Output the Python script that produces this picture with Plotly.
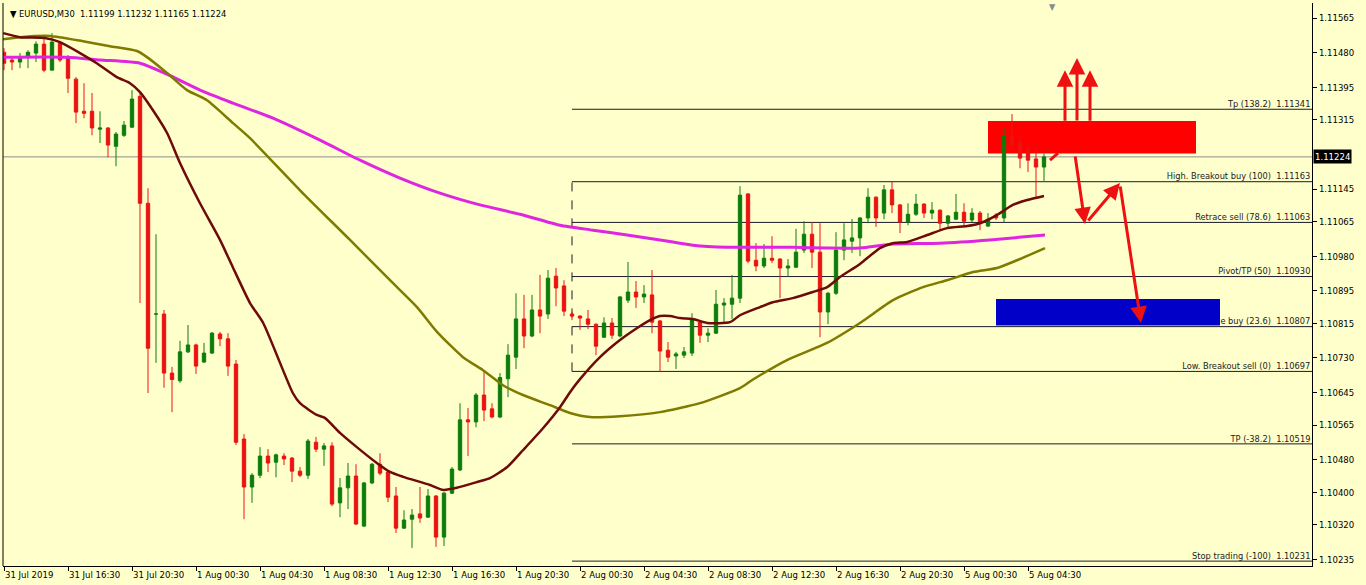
import plotly.graph_objects as go

# ---------------- data ----------------
bars = list(range(131))
opens = [1.11481,1.11462,1.11457,1.11469,1.11479,1.11501,1.11437,1.11503,1.11467,1.11415,
         1.11336,1.11336,1.11292,1.11295,1.11250,1.11277,1.11297,1.11373,1.11110,1.10838,
         1.10838,1.10693,1.10674,1.10745,1.10762,1.10720,1.10742,1.10789,1.10777,1.10715,
         1.10531,1.10413,1.10442,1.10489,1.10474,1.10489,1.10484,1.10452,1.10442,1.10523,
         1.10506,1.10514,1.10374,1.10411,1.10440,1.10317,1.10423,1.10469,1.10450,1.10391,
         1.10312,1.10334,1.10347,1.10339,1.10391,1.10290,1.10398,1.10455,1.10578,1.10573,
         1.10639,1.10605,1.10585,1.10679,1.10732,1.10826,1.10784,1.10848,1.10838,1.10931,
         1.10907,1.10838,1.10833,1.10826,1.10813,1.10781,1.10816,1.10784,1.10872,1.10892,
         1.10880,1.10885,1.10821,1.10749,1.10735,1.10737,1.10742,1.10818,1.10786,1.10791,
         1.10860,1.10862,1.10877,1.11133,1.10970,1.10956,1.10975,1.10973,1.10951,1.10953,
         1.10995,1.11034,1.10990,1.10843,1.10889,1.10995,1.11017,1.11025,1.11074,1.11125,
         1.11086,1.11143,1.11106,1.11064,1.11083,1.11108,1.11086,1.11093,1.11061,1.11071,
         1.11088,1.11069,1.11086,1.11054,1.11081,1.11074,1.11273,1.11260,1.11241,1.11219,
         1.11199]
highs = [1.11491,1.11471,1.11479,1.11486,1.11508,1.11523,1.11528,1.11508,1.11474,1.11420,
         1.11405,1.11381,1.11336,1.11297,1.11285,1.11312,1.11388,1.11381,1.11147,1.11034,
         1.10848,1.10708,1.10772,1.10811,1.10765,1.10767,1.10794,1.10794,1.10791,1.10725,
         1.10543,1.10447,1.10511,1.10506,1.10495,1.10496,1.10487,1.10462,1.10531,1.10536,
         1.10521,1.10523,1.10435,1.10472,1.10469,1.10425,1.10472,1.10496,1.10455,1.10413,
         1.10356,1.10359,1.10413,1.10408,1.10393,1.10401,1.10462,1.10619,1.10607,1.10644,
         1.10696,1.10619,1.10693,1.10764,1.10889,1.10885,1.10885,1.10934,1.10946,1.10951,
         1.10921,1.10843,1.10835,1.10848,1.10815,1.10830,1.10828,1.10882,1.10966,1.10919,
         1.10909,1.10946,1.10823,1.10769,1.10745,1.10757,1.10840,1.10823,1.10803,1.10897,
         1.10877,1.10934,1.11152,1.11135,1.11012,1.11010,1.11029,1.10975,1.10973,1.11047,
         1.11066,1.11064,1.11061,1.10892,1.11039,1.11061,1.11071,1.11076,1.11147,1.11127,
         1.11155,1.11163,1.11108,1.11110,1.11133,1.11110,1.11113,1.11095,1.11081,1.11133,
         1.11110,1.11098,1.11091,1.11086,1.11086,1.11295,1.11329,1.11275,1.11253,1.11241,
         1.11232]
lows = [1.11437,1.11437,1.11442,1.11442,1.11457,1.11432,1.11437,1.11457,1.11381,1.11307,
        1.11319,1.11277,1.11258,1.11223,1.11201,1.11273,1.11295,1.10865,1.10644,1.10718,
        1.10657,1.10597,1.10669,1.10742,1.10691,1.10718,1.10740,1.10759,1.10686,1.10516,
        1.10334,1.10374,1.10435,1.10450,1.10437,1.10467,1.10425,1.10437,1.10433,1.10499,
        1.10465,1.10366,1.10339,1.10359,1.10320,1.10315,1.10420,1.10442,1.10376,1.10300,
        1.10310,1.10263,1.10325,1.10337,1.10266,1.10268,1.10396,1.10452,1.10489,1.10560,
        1.10575,1.10582,1.10582,1.10634,1.10703,1.10754,1.10781,1.10791,1.10826,1.10857,
        1.10833,1.10823,1.10799,1.10801,1.10737,1.10779,1.10777,1.10781,1.10865,1.10853,
        1.10865,1.10791,1.10696,1.10720,1.10703,1.10730,1.10735,1.10767,1.10769,1.10789,
        1.10818,1.10826,1.10865,1.10963,1.10943,1.10951,1.10963,1.10877,1.10929,1.10951,
        1.10988,1.10951,1.10781,1.10813,1.10885,1.10970,1.10988,1.10980,1.11061,1.11052,
        1.11071,1.11086,1.11037,1.11056,1.11079,1.11074,1.11071,1.11042,1.11052,1.11069,
        1.11054,1.11064,1.11044,1.11052,1.11069,1.11064,1.11241,1.11196,1.11187,1.11125,
        1.11165]
closes = [1.11454,1.11457,1.11467,1.11481,1.11501,1.11437,1.11506,1.11462,1.11417,1.11334,
          1.11331,1.11295,1.11295,1.11253,1.11280,1.11302,1.11366,1.11110,1.10754,1.10838,
          1.10693,1.10677,1.10745,1.10762,1.10710,1.10742,1.10791,1.10777,1.10710,1.10523,
          1.10413,1.10442,1.10489,1.10472,1.10492,1.10482,1.10452,1.10442,1.10526,1.10506,
          1.10514,1.10371,1.10411,1.10440,1.10322,1.10423,1.10469,1.10447,1.10388,1.10312,
          1.10332,1.10344,1.10337,1.10391,1.10290,1.10398,1.10457,1.10578,1.10573,1.10639,
          1.10602,1.10585,1.10682,1.10737,1.10826,1.10784,1.10848,1.10833,1.10926,1.10902,
          1.10845,1.10833,1.10828,1.10813,1.10759,1.10816,1.10786,1.10880,1.10892,1.10880,
          1.10887,1.10818,1.10747,1.10732,1.10740,1.10745,1.10823,1.10786,1.10791,1.10862,
          1.10865,1.10877,1.11130,1.10968,1.10956,1.10975,1.10970,1.10951,1.10956,1.10990,
          1.11034,1.10990,1.10843,1.10889,1.10995,1.11020,1.11025,1.11074,1.11125,1.11074,
          1.11143,1.11106,1.11064,1.11083,1.11108,1.11086,1.11093,1.11061,1.11079,1.11088,
          1.11066,1.11086,1.11064,1.11071,1.11074,1.11275,1.11253,1.11221,1.11216,1.11199,
          1.11224]

tick_bars = [0, 8, 16, 24, 32, 40, 48, 56, 64, 72, 80, 88, 96, 104, 112, 120, 128]
tick_labels = ["31 Jul 2019", "31 Jul 16:30", "31 Jul 20:30", "1 Aug 00:30", "1 Aug 04:30",
               "1 Aug 08:30", "1 Aug 12:30", "1 Aug 16:30", "1 Aug 20:30", "2 Aug 00:30",
               "2 Aug 04:30", "2 Aug 08:30", "2 Aug 12:30", "2 Aug 16:30", "2 Aug 20:30",
               "5 Aug 00:30", "5 Aug 04:30"]
price_ticks = [1.11565, 1.11480, 1.11395, 1.11315, 1.11145, 1.11065, 1.10980, 1.10895,
               1.10815, 1.10730, 1.10645, 1.10565, 1.10480, 1.10400, 1.10320, 1.10235]

fast_ma_x = [-0.1,2,5.1,7,9.5,11.6,14.1,15.75,17,18.6,20.4,22,24.5,27,28.6,30.75,32.4,36.1,37,39.1,
             40.1,42,44.1,46.6,48.25,49.9,53.25,54.9,56.6,59.1,60.75,62.9,64.9,67.4,69.5,70.75,72,
             74.5,77,79.1,80.75,82,83.25,84.5,86.1,87.9,90.75,92,94.5,96.1,98.6,101.1,102.9,104.5,
             107,109.5,111.1,112.9,115.4,117.9,120.4,122,124.1,126.1,127.9,130]
fast_ma_y = [1.11528,1.11518,1.11516,1.11506,1.11479,1.11454,1.11420,1.11405,1.11383,1.11339,
             1.11282,1.11209,1.11110,1.11020,1.10953,1.10865,1.10816,1.10644,1.10619,1.10590,
             1.10583,1.10546,1.10511,1.10472,1.10450,1.10438,1.10418,1.10406,1.10411,1.10425,
             1.10435,1.10462,1.10504,1.10558,1.10609,1.10646,1.10678,1.10732,1.10774,1.10803,
             1.10823,1.10833,1.10833,1.10828,1.10826,1.10816,1.10818,1.10835,1.10855,1.10867,
             1.10877,1.10892,1.10904,1.10929,1.10961,1.11000,1.11012,1.11015,1.11032,1.11049,
             1.11054,1.11061,1.11081,1.11106,1.11118,1.11128]
slow_ma_x = [-0.125,2,5.75,9.875,13.25,16.625,17.875,20.375,22.875,25.375,28.625,30.75,37,43.25,
             48.25,51.625,54.125,57.375,59.875,62.375,64.875,68.25,70.75,73.25,77,82,87,92,93.625,
             97.875,102.875,107,111.125,114.875,117.875,121.125,124.125,126.625,130.125]
slow_ma_y = [1.11513,1.11518,1.11521,1.11508,1.11496,1.11484,1.11469,1.11430,1.11388,1.11363,
             1.11307,1.11270,1.11142,1.11020,1.10921,1.10855,1.10794,1.10732,1.10700,1.10663,
             1.10639,1.10614,1.10595,1.10585,1.10587,1.10597,1.10619,1.10656,1.10677,1.10725,
             1.10767,1.10816,1.10872,1.10904,1.10921,1.10941,1.10951,1.10970,1.11000]
long_ma_x = [-0.125,7.875,12,17,20.375,24.5,28.625,33.625,39.5,44.5,49.5,54.5,59.5,64.5,69.5,
             73.625,77.875,82,86.125,90.375,94.5,98.625,102.875,107,111.125,117,123.25,130.125]
long_ma_y = [1.11469,1.11469,1.11462,1.11454,1.11427,1.11388,1.11356,1.11319,1.11265,1.11216,
             1.11172,1.11135,1.11106,1.11083,1.11056,1.11044,1.11032,1.11020,1.11007,1.11002,
             1.11002,1.11002,1.11000,1.11000,1.11010,1.11012,1.11020,1.11032]

fib_names = ["Tp (138.2)", "High. Breakout buy (100)", "Retrace sell (78.6)", "Pivot/TP (50)",
             "Retrace buy (23.6)", "Low. Breakout sell (0)", "TP (-38.2)", "Stop trading (-100)"]
fib_levels = [1.11341, 1.11163, 1.11063, 1.10930, 1.10807, 1.10697, 1.10519, 1.10231]
fib_start_bar = 71
fib_anchor = [1.10697, 1.11163]
current_price = 1.11224
title_text = "EURUSD,M30  1.11199 1.11232 1.11165 1.11224"

red_zone = [123, 149, 1.11232, 1.11312]
blue_zone = [124, 152, 1.10810, 1.10875]
# arrows: head bar, head price, tail offset px (dx, dy)
arrows = [(132.625, 1.11437, 0, 52), (134.125, 1.11467, 0, 64), (135.75, 1.11437, 0, 52),
          (135.125, 1.11059, -10, -69), (139.5, 1.11160, -33, 39), (142.125, 1.10816, -21, -138)]
stroke = [(130.75, 1.11216), (131.75, 1.11233)]

X_RANGE = [-0.125, 163.5]
Y_RANGE = [1.10219, 1.11602]

BG = "#FFFFCC"
FONT = "DejaVu Sans Condensed, DejaVu Sans"
BULL = "#0C7D0C"
BEAR = "#EC1212"
ARROW = "#EE1111"

fig = go.Figure()

fig.add_trace(go.Candlestick(
    x=bars, open=opens, high=highs, low=lows, close=closes,
    increasing=dict(line=dict(color=BULL, width=1), fillcolor=BULL),
    decreasing=dict(line=dict(color=BEAR, width=1), fillcolor=BEAR),
    whiskerwidth=0, showlegend=False, hoverinfo="skip"))

fig.add_trace(go.Scatter(x=long_ma_x, y=long_ma_y, mode="lines",
                         line=dict(color="#E025E0", width=3, shape="spline", smoothing=0.6),
                         showlegend=False, hoverinfo="skip"))
fig.add_trace(go.Scatter(x=slow_ma_x, y=slow_ma_y, mode="lines",
                         line=dict(color="#7F7A00", width=2.5, shape="spline", smoothing=0.6),
                         showlegend=False, hoverinfo="skip"))
fig.add_trace(go.Scatter(x=fast_ma_x, y=fast_ma_y, mode="lines",
                         line=dict(color="#6E0A0A", width=2.5, shape="spline", smoothing=0.6),
                         showlegend=False, hoverinfo="skip"))

# fib labels (as trace so the blue zone can cover them)
fig.add_trace(go.Scatter(
    x=[X_RANGE[1] - 0.2] * len(fib_levels), y=fib_levels, mode="text",
    text=[f"{n}  {v:.5f}" for n, v in zip(fib_names, fib_levels)],
    textposition="top left", textfont=dict(family=FONT, size=9.2, color="#222222"),
    showlegend=False, hoverinfo="skip", cliponaxis=False))

shapes = []
shapes.append(dict(type="rect", xref="x", yref="y", x0=red_zone[0], x1=red_zone[1],
                   y0=red_zone[2], y1=red_zone[3], fillcolor="#FF0000",
                   line=dict(width=0), layer="below"))
shapes.append(dict(type="line", xref="paper", yref="y", x0=0, x1=1, y0=current_price,
                   y1=current_price, line=dict(color="#8C8C8C", width=1), layer="below"))
for v in fib_levels:
    shapes.append(dict(type="line", xref="x", yref="y", x0=fib_start_bar, x1=X_RANGE[1],
                       y0=v, y1=v, line=dict(color="#1A1A2A", width=1), layer="below"))
shapes.append(dict(type="line", xref="x", yref="y", x0=fib_start_bar, x1=fib_start_bar,
                   y0=fib_anchor[0], y1=fib_anchor[1],
                   line=dict(color="#1A1A1A", width=1, dash="dash"), layer="below"))
shapes.append(dict(type="rect", xref="x", yref="y", x0=blue_zone[0], x1=blue_zone[1],
                   y0=blue_zone[2], y1=blue_zone[3], fillcolor="#0000C8",
                   line=dict(width=0), layer="above"))
shapes.append(dict(type="line", xref="x", yref="y", x0=stroke[0][0], y0=stroke[0][1],
                   x1=stroke[1][0], y1=stroke[1][1], line=dict(color=ARROW, width=3),
                   layer="above"))
shapes.append(dict(type="line", xref="paper", yref="paper", x0=0, x1=0, y0=0, y1=1,
                   line=dict(color="#000000", width=1)))

annotations = []
for hx, hy, dx, dy in arrows:
    annotations.append(dict(x=hx, y=hy, xref="x", yref="y", ax=dx, ay=dy, text="",
                            showarrow=True, arrowhead=2, arrowsize=1.1, arrowwidth=3,
                            arrowcolor=ARROW))
annotations.append(dict(xref="paper", yref="paper", x=0, y=1, xanchor="left", yanchor="top",
                        xshift=5, yshift=-3, showarrow=False,
                        text="\u25BC " + title_text,
                        font=dict(family=FONT, size=9.3, color="#000000")))
annotations.append(dict(xref="paper", yref="y", x=1, y=current_price, xanchor="left",
                        yanchor="middle", xshift=1, showarrow=False,
                        text=f"{current_price:.5f}", bgcolor="#000000", borderpad=1,
                        font=dict(family=FONT, size=9.5, color="#FFFFFF")))
annotations.append(dict(xref="x", yref="paper", x=131, y=1, yanchor="top", yshift=3,
                        showarrow=False, text="\u25BC",
                        font=dict(family=FONT, size=9, color="#8A8A8A")))

fig.update_layout(
    width=1366, height=585,
    margin=dict(l=3, r=54, t=3, b=19, autoexpand=False),
    paper_bgcolor=BG, plot_bgcolor=BG,
    showlegend=False, boxgap=0.4,
    shapes=shapes, annotations=annotations,
    xaxis=dict(range=X_RANGE, rangeslider=dict(visible=False), showgrid=False,
               zeroline=False, tickvals=tick_bars, ticktext=tick_labels,
               ticks="outside", ticklen=4, tickcolor="#000000", tickangle=0,
               ticklabelposition="outside right", automargin=False,
               tickfont=dict(family=FONT, size=9.5, color="#000000"),
               showline=True, linecolor="#000000", linewidth=1),
    yaxis=dict(range=Y_RANGE, side="right", showgrid=False, zeroline=False,
               tickvals=price_ticks, ticktext=[f"{v:.5f}" for v in price_ticks],
               ticks="outside", ticklen=4, tickcolor="#000000", automargin=False,
               tickfont=dict(family=FONT, size=9.5, color="#000000"),
               showline=True, linecolor="#000000", linewidth=1),
)

fig.write_html("out.html", config={"displayModeBar": False},
               post_script="document.body.style.margin='0';document.body.style.padding='0';")
